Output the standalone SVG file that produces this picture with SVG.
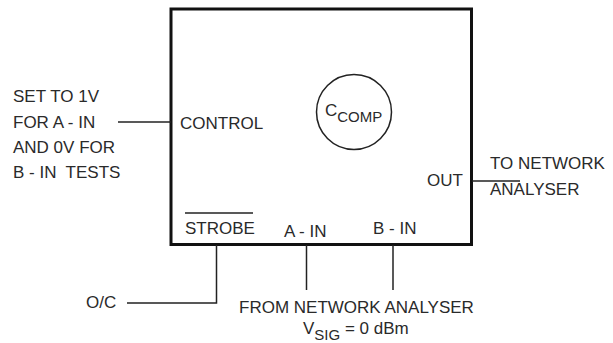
<svg xmlns="http://www.w3.org/2000/svg" width="613" height="343" viewBox="0 0 613 343">
<style>
text{font-family:"Liberation Sans",Arial,sans-serif;font-size:17px;fill:#2a2a2a}
.sub{font-size:15px}
.w{stroke:#222;stroke-width:1.5;fill:none}
</style>
<rect width="613" height="343" fill="#fff"/>
<g id="block">
<rect x="171" y="9" width="300.5" height="235.5" fill="none" stroke="#111" stroke-width="3"/>
<text x="180" y="129">CONTROL</text>
<text x="185" y="234">STROBE</text>
<line x1="185" y1="213" x2="253" y2="213" stroke="#222" stroke-width="1.3"/>
<text x="284" y="237">A - IN</text>
<text x="373" y="234">B - IN</text>
<text x="427" y="186">OUT</text>
</g>
<g id="ccomp">
<circle cx="354" cy="112" r="37.5" fill="none" stroke="#222" stroke-width="1.5"/>
<text x="325" y="116">C<tspan class="sub" y="122">COMP</tspan></text>
</g>
<g id="control-note">
<text x="13" y="102">SET TO 1V</text>
<text x="13" y="128">FOR A - IN</text>
<text x="13" y="153">AND 0V FOR</text>
<text x="13" y="178" xml:space="preserve">B - IN  TESTS</text>
</g>
<g id="oc"><text x="86" y="308">O/C</text></g>
<g id="from-na">
<text x="239" y="313">FROM NETWORK ANALYSER</text>
<text x="303" y="334">V<tspan class="sub" y="340">SIG</tspan><tspan y="334"> = 0 dBm</tspan></text>
</g>
<g id="to-na">
<text x="490" y="169">TO NETWORK</text>
<text x="490" y="195">ANALYSER</text>
</g>
<g id="connectors">
<line class="w" x1="118" y1="122" x2="171" y2="122"/>
<polyline class="w" points="216.5,245 216.5,303 127,303"/>
<line class="w" x1="306.5" y1="245" x2="306.5" y2="290"/>
<line class="w" x1="393" y1="245" x2="393" y2="290"/>
<line class="w" x1="472" y1="181" x2="520" y2="181"/>
</g>
</svg>
